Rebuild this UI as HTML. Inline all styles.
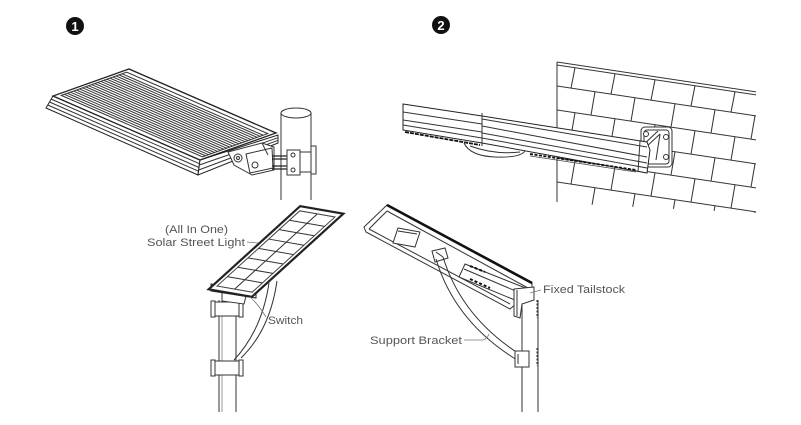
<!DOCTYPE html>
<html><head><meta charset="utf-8">
<style>
html,body{margin:0;padding:0;background:#fff;}
svg{display:block;}
.m line,.m polygon,.m path,.m rect{vector-effect:non-scaling-stroke;}
text{font-family:"Liberation Sans",sans-serif;fill:#555;font-size:11px;}
</style></head>
<body>
<svg width="801" height="425" viewBox="0 0 801 425" xmlns="http://www.w3.org/2000/svg">
<rect width="801" height="425" fill="#fff"/>

<!-- Numbers -->
<circle cx="75" cy="26" r="9" fill="#111"/>
<text x="75" y="31" text-anchor="middle" style="fill:#fff;font-weight:bold;font-size:13px">1</text>
<circle cx="441" cy="25" r="9" fill="#111"/>
<text x="441" y="30" text-anchor="middle" style="fill:#fff;font-weight:bold;font-size:13px">2</text>

<!-- ===== Fig 1 top: panel on pole ===== -->
<g stroke="#333" stroke-width="1" fill="none">
  <!-- pole -->
  <line x1="281" y1="113" x2="281" y2="200"/>
  <line x1="311" y1="113" x2="311" y2="200"/>
  <ellipse cx="296" cy="113" rx="15" ry="5" fill="#fff"/>
  <!-- front side face -->
  <polygon points="53,96 200,160 198,175 46,108" fill="#fff" stroke="#222"/>
  <line x1="51" y1="99" x2="199.5" y2="163.7"/>
  <line x1="49.5" y1="102" x2="199" y2="167.5"/>
  <line x1="47.8" y1="105" x2="198.5" y2="171.2"/>
  <!-- right end face -->
  <polygon points="200,160 278,135 278,143 198,175" fill="#fff" stroke="#222"/>
  <line x1="199.3" y1="165" x2="278" y2="137.7"/>
  <line x1="198.7" y1="170" x2="278" y2="140.3"/>
</g>
<g class="m" transform="matrix(147,64,76,-27,53,96)" stroke="#333" stroke-width="1" fill="none">
  <polygon points="0,0 1,0 1,1 0,1" fill="#fff" stroke="#222" stroke-width="1.3"/>
  <polygon points="0.02,0.07 0.98,0.07 0.98,0.93 0.02,0.93"/>
  <line x1="0.02" y1="0.11" x2="0.98" y2="0.11"/>
  <line x1="0.02" y1="0.15" x2="0.98" y2="0.15"/>
  <line x1="0.02" y1="0.19" x2="0.98" y2="0.19"/>
  <line x1="0.02" y1="0.23" x2="0.98" y2="0.23"/>
  <line x1="0.02" y1="0.27" x2="0.98" y2="0.27"/>
  <line x1="0.02" y1="0.31" x2="0.98" y2="0.31"/>
  <line x1="0.02" y1="0.35" x2="0.98" y2="0.35"/>
  <line x1="0.02" y1="0.39" x2="0.98" y2="0.39"/>
  <line x1="0.02" y1="0.43" x2="0.98" y2="0.43"/>
  <line x1="0.02" y1="0.47" x2="0.98" y2="0.47"/>
  <line x1="0.02" y1="0.51" x2="0.98" y2="0.51"/>
  <line x1="0.02" y1="0.55" x2="0.98" y2="0.55"/>
  <line x1="0.02" y1="0.59" x2="0.98" y2="0.59"/>
  <line x1="0.02" y1="0.63" x2="0.98" y2="0.63"/>
  <line x1="0.02" y1="0.67" x2="0.98" y2="0.67"/>
  <line x1="0.02" y1="0.71" x2="0.98" y2="0.71"/>
  <line x1="0.02" y1="0.75" x2="0.98" y2="0.75"/>
  <line x1="0.02" y1="0.79" x2="0.98" y2="0.79"/>
  <line x1="0.02" y1="0.83" x2="0.98" y2="0.83"/>
  <line x1="0.02" y1="0.87" x2="0.98" y2="0.87"/>
</g>
<!-- bracket fig1 -->
<g stroke="#333" stroke-width="1" fill="#fff">
  <polygon points="228,152 262,143 274,147 274,170 252,175 234,165"/>
  <polygon points="246,154 272,148 273,168 250,173"/>
  <circle cx="238" cy="158" r="4"/>
  <circle cx="238" cy="158" r="1.5"/>
  <circle cx="255" cy="165" r="3"/>
  <line x1="262" y1="143" x2="268" y2="155"/>
  <line x1="272" y1="156" x2="290" y2="156" stroke="#222" stroke-width="1.2"/>
  <line x1="272" y1="159" x2="290" y2="159" stroke="#222" stroke-width="1.2"/>
  <line x1="272" y1="166" x2="290" y2="166" stroke="#222" stroke-width="1.2"/>
  <line x1="272" y1="169" x2="290" y2="169" stroke="#222" stroke-width="1.2"/>
  <rect x="287" y="150" width="13" height="25"/>
  <circle cx="293" cy="155" r="2"/>
  <circle cx="293" cy="170" r="2"/>
  <rect x="300" y="152" width="12" height="20"/>
  <rect x="311" y="146" width="5" height="28"/>
</g>

<!-- ===== Fig 2 top: brick wall ===== -->
<defs>
  <clipPath id="wall"><polygon points="557,61 756,90 756,213 557,203"/></clipPath>
</defs>
<g clip-path="url(#wall)" stroke="#333" stroke-width="1" fill="none">
  <g transform="matrix(1,0.15,0,1,0,-83.55)">
    <line x1="557" y1="62" x2="760" y2="62"/>
    <line x1="557" y1="65" x2="760" y2="65"/>
    <line x1="557" y1="86" x2="760" y2="86"/>
    <line x1="557" y1="110" x2="760" y2="110"/>
    <line x1="557" y1="134" x2="760" y2="134"/>
    <line x1="557" y1="158" x2="760" y2="158"/>
    <line x1="557" y1="182" x2="760" y2="182"/>
    <line x1="557" y1="206" x2="760" y2="206"/>
    <!-- joints row1 -->
    <path d="M575,65 L571,86 M615,65 L611,86 M655,65 L651,86 M695,65 L691,86 M735,65 L731,86"/>
    <path d="M595,86 L591,110 M635,86 L631,110 M675,86 L671,110 M715,86 L711,110 M755,86 L751,110"/>
    <path d="M575,110 L571,134 M615,110 L611,134 M655,110 L651,134 M695,110 L691,134 M735,110 L731,134"/>
    <path d="M595,134 L591,158 M635,134 L631,158 M675,134 L671,158 M715,134 L711,158 M755,134 L751,158"/>
    <path d="M575,158 L571,182 M615,158 L611,182 M655,158 L651,182 M695,158 L691,182 M735,158 L731,182"/>
    <path d="M595,182 L591,206 M635,182 L631,206 M675,182 L671,206 M715,182 L711,206 M755,182 L751,206"/>
  </g>
</g>
<line x1="557" y1="62" x2="557" y2="202" stroke="#333"/>

<!-- bracket fig2 -->
<g stroke="#333" stroke-width="1" fill="#fff">
  <rect x="641" y="127" width="31" height="40" rx="4"/>
  <rect x="644" y="130" width="25" height="34" rx="3" fill="none"/>
  <circle cx="646" cy="134" r="2.5"/>
  <circle cx="666" cy="137" r="2.5"/>
  <circle cx="666" cy="157" r="2.5"/>
  <line x1="642" y1="146" x2="658" y2="131"/>
  <line x1="645" y1="148" x2="660" y2="134"/>
  <line x1="660" y1="134" x2="656" y2="160"/>
</g>

<!-- bar fig2 -->
<g stroke="#333" stroke-width="1" fill="#fff">
  <polygon points="403,104 482,116 647,142 650,150 647,173 482,143 403,130" stroke="#222"/>
  <line x1="482" y1="113" x2="482" y2="146"/>
  <line x1="403" y1="112" x2="482" y2="124"/>
  <line x1="403" y1="120" x2="482" y2="132"/>
  <line x1="403" y1="125" x2="482" y2="138"/>
  <line x1="482" y1="119" x2="647" y2="147"/>
  <line x1="482" y1="126" x2="647" y2="157"/>
  <line x1="482" y1="133" x2="647" y2="163"/>
  <line x1="482" y1="138" x2="647" y2="168"/>
  <line x1="640" y1="141" x2="638" y2="172"/>
  <line x1="405" y1="132" x2="480" y2="145" stroke="#111" stroke-width="1.8" stroke-dasharray="4 1"/>
  <path d="M464,143 Q470,156 495,157 Q520,158 525,151" fill="none"/>
  <path d="M470,146 Q495,155 520,152" fill="none"/>
  <line x1="530" y1="154" x2="636" y2="170" stroke="#111" stroke-width="1.8" stroke-dasharray="3 1.5"/>
  <line x1="530" y1="156" x2="636" y2="172" stroke="#444" stroke-width="0.8"/>
</g>

<!-- ===== Fig 1 bottom: pole-top light ===== -->
<g stroke="#333" stroke-width="1" fill="#fff">
  <!-- pole -->
  <line x1="219" y1="300" x2="219" y2="412"/>
  <line x1="236" y1="300" x2="236" y2="412"/>
  <line x1="222" y1="300" x2="222" y2="412" stroke="#999"/>
  <!-- top clamp -->
  <rect x="213" y="302" width="28" height="14"/>
  <rect x="211" y="301" width="4" height="16"/>
  <rect x="239" y="301" width="4" height="16"/>
  <!-- bottom clamp -->
  <rect x="213" y="361" width="28" height="14"/>
  <rect x="211" y="360" width="4" height="16"/>
  <rect x="239" y="360" width="4" height="16"/>
  <!-- mount under panel -->
  <polygon points="222,292 246,296 244,304 222,301"/>
  <!-- arm -->
  <path d="M269,283 Q262,330 234,360" fill="none"/>
  <path d="M277,281 Q270,330 241,358" fill="none"/>
  <!-- end cap -->
  <polygon points="211,284 256,291 256,298 211,291" stroke="#222"/>
  <circle cx="214" cy="287.5" r="2"/>
  <circle cx="252" cy="294.5" r="2"/>
</g>
<g class="m" transform="matrix(40,7,88,-80,212,288)" stroke="#333" stroke-width="1" fill="none">
  <polygon points="-0.04,-0.02 1.04,-0.02 1.04,1.02 -0.04,1.02" fill="#fff" stroke="#222" stroke-width="2.2"/>
  <polygon points="0.06,0.03 0.94,0.03 0.94,0.97 0.06,0.97" stroke="#444"/>
  <line x1="0.5" y1="0.03" x2="0.5" y2="0.97"/>
  <line x1="0.06" y1="0.147" x2="0.94" y2="0.147"/>
  <line x1="0.06" y1="0.265" x2="0.94" y2="0.265"/>
  <line x1="0.06" y1="0.382" x2="0.94" y2="0.382"/>
  <line x1="0.06" y1="0.5" x2="0.94" y2="0.5"/>
  <line x1="0.06" y1="0.617" x2="0.94" y2="0.617"/>
  <line x1="0.06" y1="0.735" x2="0.94" y2="0.735"/>
  <line x1="0.06" y1="0.852" x2="0.94" y2="0.852"/>
</g>
<g stroke="#777" stroke-width="0.8" fill="none">
  <line x1="247" y1="242" x2="258" y2="243"/>
  <path d="M250,297 Q258,304 266,317"/>
</g>
<text x="196.5" y="233" text-anchor="middle" textLength="63" lengthAdjust="spacingAndGlyphs">(All In One)</text>
<text x="147" y="246" textLength="98" lengthAdjust="spacingAndGlyphs">Solar Street Light</text>
<text x="268" y="324" textLength="35" lengthAdjust="spacingAndGlyphs">Switch</text>

<!-- ===== Fig 2 bottom: underside view ===== -->
<g stroke="#333" stroke-width="1" fill="#fff">
  <!-- pole -->
  <line x1="522" y1="298" x2="522" y2="412"/>
  <line x1="538" y1="300" x2="538" y2="412"/>
  <line x1="537" y1="300" x2="537" y2="318" stroke-dasharray="2 1.5"/>
  <line x1="537" y1="348" x2="537" y2="366" stroke-dasharray="2 1.5"/>
  <!-- tray -->
  <polygon points="387,205 532,283 532,290 510,309 366,232 364,227" />
  <line x1="387" y1="205" x2="532" y2="283" stroke="#111" stroke-width="2.6"/>
  <line x1="387" y1="211" x2="528" y2="288"/>
  <line x1="387" y1="211" x2="369" y2="229"/>
  <line x1="369" y1="229" x2="510" y2="304"/>
  <!-- square box -->
  <polygon points="398,228 420,232 415,247 393,243"/>
  <line x1="398" y1="231" x2="417" y2="234"/>
  <!-- block -->
  <polygon points="432,251 445,248 448,258 435,262"/>
  <line x1="436" y1="252" x2="443" y2="257"/>
  <!-- channel -->
  <polygon points="465,264 528,289 522,303 459,277"/>
  <line x1="464" y1="269" x2="525" y2="295"/>
  <line x1="470" y1="266" x2="485" y2="272" stroke="#111" stroke-width="2" stroke-dasharray="3 2"/>
  <line x1="470" y1="279" x2="490" y2="288" stroke="#111" stroke-width="2" stroke-dasharray="3 2"/>
  <!-- tailstock -->
  <polygon points="514,289 534,287 534,300 522,304 520,318 514,316"/>
  <line x1="517" y1="290" x2="517" y2="316"/>
  <!-- support bracket -->
  <path d="M436,259 Q455,322 517,360" fill="none"/>
  <path d="M443,257 Q462,318 521,355" fill="none"/>
  <rect x="515" y="351" width="14" height="16"/>
  <line x1="518" y1="354" x2="518" y2="364"/>
</g>
<g stroke="#777" stroke-width="0.8" fill="none">
  <line x1="541" y1="290" x2="530" y2="293"/>
  <path d="M464,340 L483,340 Q487,339 489,334"/>
</g>
<text x="543" y="293" textLength="82" lengthAdjust="spacingAndGlyphs">Fixed Tailstock</text>
<text x="370" y="344" textLength="92" lengthAdjust="spacingAndGlyphs">Support Bracket</text>
</svg>
</body></html>
